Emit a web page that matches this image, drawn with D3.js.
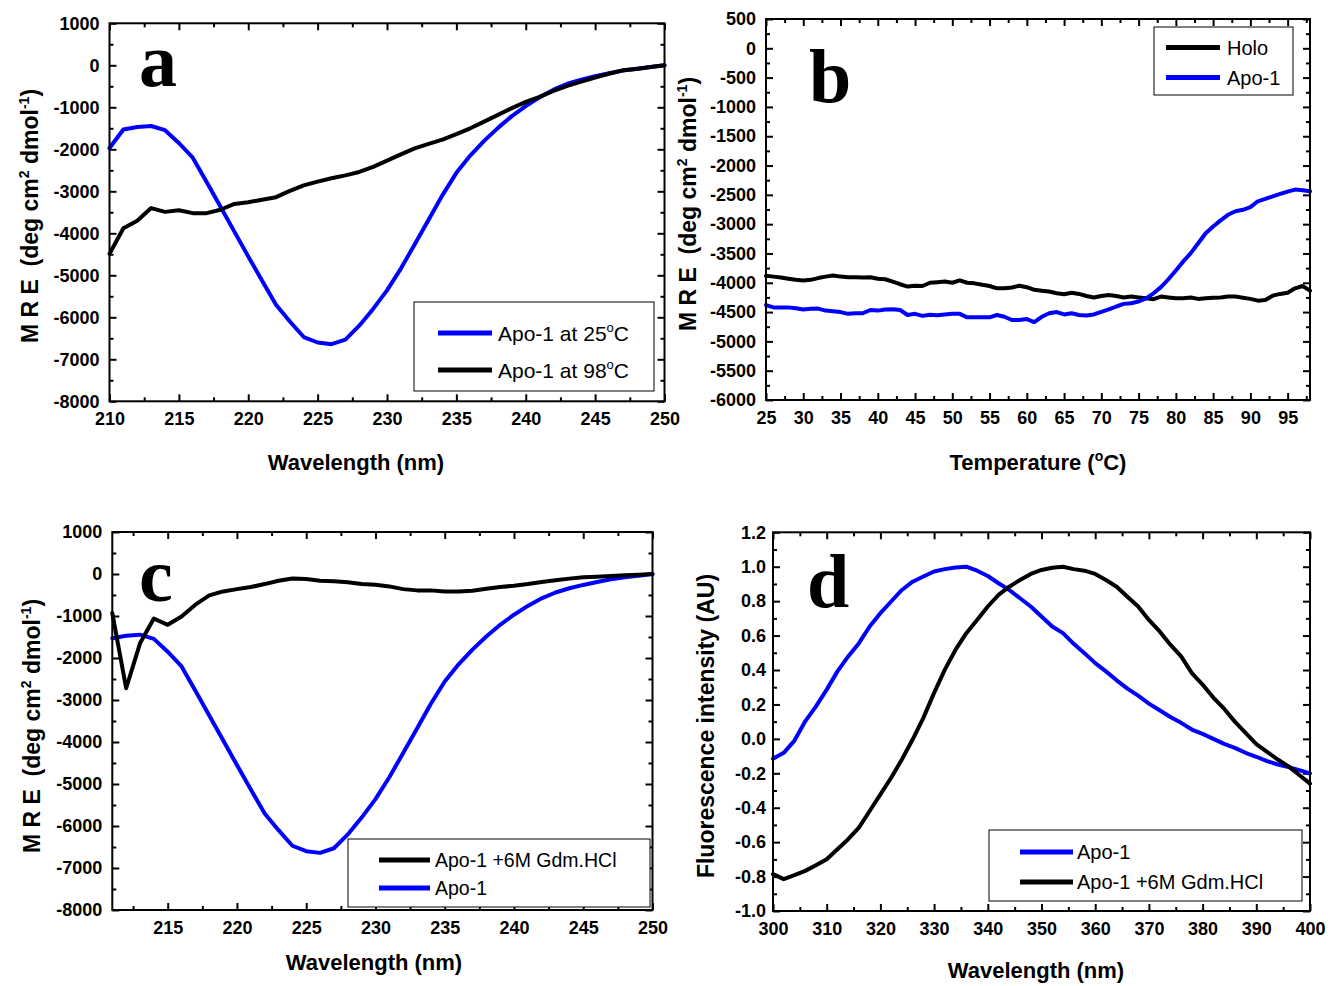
<!DOCTYPE html>
<html><head><meta charset="utf-8">
<script src="https://cdn.jsdelivr.net/npm/d3@7"></script>
<style>
body{margin:0;background:#fff;}
svg{display:block;}
text{fill:#000;}
</style></head><body>
<svg id="chart" width="1328" height="986"></svg>
<script>
// ---------------- DATA ----------------
// Panel a / c : CD spectra (wavelength, nm)
const wlA = [210,211,212,213,214,215,216,217,218,219,220,221,222,223,224,225,226,227,228,229,230,
             231,232,233,234,235,236,237,238,239,240,241,242,243,244,245,246,247,248,249,250];
const apo25 = [-1970,-1530,-1470,-1445,-1545,-1850,-2200,-2780,-3370,-3960,-4550,-5130,-5700,-6100,-6470,-6600,-6640,-6530,-6200,-5800,-5360,
               -4840,-4260,-3680,-3090,-2560,-2150,-1800,-1490,-1210,-970,-760,-580,-440,-340,-260,-190,-125,-80,-40,0];
const apo98 = [-4490,-3880,-3700,-3400,-3490,-3450,-3520,-3520,-3440,-3300,-3260,-3200,-3140,-2990,-2860,-2770,-2690,-2620,-2540,-2420,-2270,
               -2120,-1980,-1870,-1770,-1640,-1500,-1340,-1180,-1020,-870,-750,-610,-490,-390,-290,-200,-120,-90,-40,0];
const wlC = [211,212,213,214,215,216,217,218,219,220,221,222,223,224,225,226,227,228,229,230,
             231,232,233,234,235,236,237,238,239,240,241,242,243,244,245,246,247,248,249,250];
const apoGdmCD = [-930,-2720,-1650,-1060,-1210,-1010,-730,-510,-415,-360,-310,-240,-160,-105,-120,-160,-175,-195,-240,-255,
                  -295,-360,-390,-390,-415,-415,-400,-350,-310,-280,-240,-190,-150,-110,-80,-65,-50,-30,-15,0];
const apoNativeCD = [-1530,-1470,-1445,-1545,-1850,-2200,-2780,-3370,-3960,-4550,-5130,-5700,-6100,-6470,-6600,-6640,-6530,-6200,-5800,-5360,
                     -4840,-4260,-3680,-3090,-2560,-2150,-1800,-1490,-1210,-970,-760,-580,-440,-340,-260,-190,-125,-80,-40,0];

// Panel b : thermal melt (temperature, degC)
const tempB = [25,26,27,28,29,30,31,32,33,34,35,36,37,38,39,40,41,42,43,44,45,46,47,48,49,50,51,52,53,54,55,56,57,58,59,60,61,
               62,63,64,65,66,67,68,69,70,71,72,73,74,75,76,77,78,79,80,81,82,83,84,85,86,87,88,89,90,91,92,93,94,95,96,97,98];
const holoB = [-3880,-3895,-3910,-3930,-3950,-3960,-3950,-3920,-3895,-3875,-3895,-3905,-3905,-3910,-3905,-3930,-3940,-3980,-4025,-4065,
               -4050,-4055,-4000,-3990,-3980,-4000,-3960,-4000,-4010,-4035,-4055,-4095,-4095,-4080,-4050,-4075,-4120,-4135,-4150,-4180,
               -4195,-4170,-4190,-4225,-4250,-4225,-4210,-4225,-4250,-4235,-4250,-4265,-4280,-4235,-4250,-4265,-4265,-4250,-4275,-4265,
               -4255,-4250,-4235,-4235,-4255,-4275,-4305,-4295,-4220,-4190,-4170,-4095,-4055,-4135];
const apoB = [-4380,-4420,-4420,-4420,-4435,-4455,-4445,-4440,-4475,-4485,-4500,-4530,-4520,-4520,-4465,-4475,-4455,-4450,-4465,-4550,
              -4530,-4565,-4545,-4555,-4540,-4530,-4530,-4590,-4590,-4590,-4590,-4550,-4580,-4635,-4635,-4620,-4670,-4580,-4520,-4500,
              -4540,-4520,-4550,-4560,-4540,-4495,-4455,-4405,-4360,-4350,-4320,-4265,-4180,-4075,-3940,-3790,-3635,-3495,-3325,-3155,
              -3040,-2935,-2840,-2780,-2755,-2710,-2610,-2570,-2525,-2485,-2445,-2410,-2420,-2440];

// Panel d : fluorescence (wavelength, nm)
const wlD = [300,302,304,306,308,310,312,314,316,318,320,322,324,326,328,330,332,334,336,338,340,342,344,346,348,350,
             352,354,356,358,360,362,364,366,368,370,372,374,376,378,380,382,384,386,388,390,392,394,396,398,400];
const fluoApo = [-0.116,-0.081,-0.010,0.102,0.189,0.286,0.392,0.479,0.556,0.653,0.730,0.798,0.865,0.913,0.943,0.972,0.986,0.996,1.000,0.977,
                 0.946,0.904,0.865,0.817,0.769,0.711,0.653,0.614,0.552,0.498,0.440,0.392,0.340,0.292,0.251,0.205,0.166,0.127,0.093,0.054,
                 0.029,0.000,-0.029,-0.052,-0.081,-0.104,-0.129,-0.149,-0.164,-0.182,-0.201];
const fluoGdm = [-0.786,-0.815,-0.792,-0.767,-0.734,-0.699,-0.641,-0.583,-0.516,-0.419,-0.323,-0.226,-0.120,-0.004,0.122,0.267,0.402,0.518,0.614,0.691,
                 0.769,0.836,0.884,0.923,0.958,0.981,0.994,1.000,0.986,0.977,0.958,0.923,0.884,0.826,0.769,0.691,0.624,0.547,0.479,0.382,
                 0.315,0.240,0.175,0.100,0.035,-0.030,-0.075,-0.120,-0.160,-0.210,-0.260];

// Tick labels
const ticksYA = [-8000,-7000,-6000,-5000,-4000,-3000,-2000,-1000,0,1000];
const minorYA = [-7500,-6500,-5500,-4500,-3500,-2500,-1500,-500,500];
const ticksXA = [210,215,220,225,230,235,240,245,250];
const minorXA = [212.5,217.5,222.5,227.5,232.5,237.5,242.5,247.5];
const ticksYB = [-6000,-5500,-5000,-4500,-4000,-3500,-3000,-2500,-2000,-1500,-1000,-500,0,500];
const minorYB = [-5750,-5250,-4750,-4250,-3750,-3250,-2750,-2250,-1750,-1250,-750,-250,250];
const ticksXB = [25,30,35,40,45,50,55,60,65,70,75,80,85,90,95];
const minorXB = [27.5,32.5,37.5,42.5,47.5,52.5,57.5,62.5,67.5,72.5,77.5,82.5,87.5,92.5,97.5];
const ticksXC = [215,220,225,230,235,240,245,250];
const minorXC = [212.5,217.5,222.5,227.5,232.5,237.5,242.5,247.5];
const ticksYD = [-1.0,-0.8,-0.6,-0.4,-0.2,0.0,0.2,0.4,0.6,0.8,1.0,1.2];
const minorYD = [-0.9,-0.7,-0.5,-0.3,-0.1,0.1,0.3,0.5,0.7,0.9,1.1];
const ticksXD = [300,310,320,330,340,350,360,370,380,390,400];
const minorXD = [305,315,325,335,345,355,365,375,385,395];

const BLUE = "#0000ff", BLACK = "#000000";
const SANS = '"Liberation Sans", Arial, sans-serif';
const SERIF = '"Liberation Serif", "Times New Roman", serif';

// ---------------- DRAW ----------------
const svg = d3.select("#chart");
const intFmt = d => String(d);
const decFmt = d => d.toFixed(1);

function supText(sel, parts, fs, sfs, shift) {
  parts.forEach(p => {
    if (p.sup) sel.append("tspan").attr("dy", -shift).style("font-size", sfs + "px").text(p.t);
    else if (p.after) sel.append("tspan").attr("dy", shift).text(p.t);
    else sel.append("tspan").text(p.t);
  });
}

function panel(c) {
  const g = svg.append("g");
  const x = d3.scaleLinear().domain(c.xDomain).range([c.left, c.right]);
  const y = d3.scaleLinear().domain(c.yDomain).range([c.bottom, c.top]);
  const strip = s => s.select(".domain").remove();
  const style = s => s.selectAll("line").attr("stroke", "#000").attr("stroke-width", 2);
  const lab = s => s.selectAll("text").style("font-size", "18px").style("font-weight", "bold")
                     .style("font-family", SANS).attr("fill", "#000");

  // major + minor ticks on all four sides (pointing inward)
  g.append("g").attr("transform", `translate(0,${c.bottom})`)
    .call(d3.axisBottom(x).tickValues(c.xTicks).tickSize(-7).tickPadding(11).tickFormat(c.xFmt))
    .call(strip).call(style).call(lab);
  g.append("g").attr("transform", `translate(0,${c.bottom})`)
    .call(d3.axisBottom(x).tickValues(c.xMinor).tickSize(-4).tickFormat(""))
    .call(strip).call(style);
  g.append("g").attr("transform", `translate(0,${c.top})`)
    .call(d3.axisTop(x).tickValues(c.xTicks).tickSize(-7).tickFormat(""))
    .call(strip).call(style);
  g.append("g").attr("transform", `translate(0,${c.top})`)
    .call(d3.axisTop(x).tickValues(c.xMinor).tickSize(-4).tickFormat(""))
    .call(strip).call(style);
  g.append("g").attr("transform", `translate(${c.left},0)`)
    .call(d3.axisLeft(y).tickValues(c.yTicks).tickSize(-7).tickPadding(c.yPad).tickFormat(c.yFmt))
    .call(strip).call(style).call(lab);
  g.append("g").attr("transform", `translate(${c.left},0)`)
    .call(d3.axisLeft(y).tickValues(c.yMinor).tickSize(-4).tickFormat(""))
    .call(strip).call(style);
  g.append("g").attr("transform", `translate(${c.right},0)`)
    .call(d3.axisRight(y).tickValues(c.yTicks).tickSize(-7).tickFormat(""))
    .call(strip).call(style);
  g.append("g").attr("transform", `translate(${c.right},0)`)
    .call(d3.axisRight(y).tickValues(c.yMinor).tickSize(-4).tickFormat(""))
    .call(strip).call(style);

  // series
  const line = d3.line().x(d => x(d[0])).y(d => y(d[1]));
  c.series.forEach(s => {
    g.append("path").datum(d3.zip(s.x, s.y))
      .attr("d", line).attr("fill", "none").attr("stroke", s.color)
      .attr("stroke-width", 4).attr("stroke-linejoin", "round").attr("stroke-linecap", "round");
  });

  // frame
  g.append("rect").attr("x", c.left).attr("y", c.top)
    .attr("width", c.right - c.left).attr("height", c.bottom - c.top)
    .attr("fill", "none").attr("stroke", "#000").attr("stroke-width", 2);

  // panel letter (bold serif)
  g.append("text").attr("x", c.letter[0]).attr("y", c.letter[1])
    .style("font-family", SERIF).style("font-weight", "bold").style("font-size", "76px")
    .text(c.name);

  // legend
  const L = c.legend;
  g.append("rect").attr("x", L.box[0]).attr("y", L.box[1])
    .attr("width", L.box[2] - L.box[0]).attr("height", L.box[3] - L.box[1])
    .attr("fill", "#fff").attr("stroke", "#000").attr("stroke-width", 1);
  L.items.forEach((it, i) => {
    const yy = L.rows[i];
    g.append("line").attr("x1", L.line[0]).attr("x2", L.line[1]).attr("y1", yy).attr("y2", yy)
      .attr("stroke", it.color).attr("stroke-width", 5);
    const t = g.append("text").attr("x", L.textX).attr("y", yy).attr("dy", "0.36em")
      .style("font-family", SANS).style("font-size", L.fs + "px").style("white-space", "pre");
    supText(t, it.parts, L.fs, L.fs * 0.62, L.fs * 0.42);
  });

  // x title
  const xt = g.append("text").attr("x", c.xTitle[0]).attr("y", c.xTitle[1])
    .attr("text-anchor", "middle").style("font-family", SANS).style("font-weight", "bold")
    .style("font-size", "22px").style("white-space", "pre");
  supText(xt, c.xTitleParts, 22, 14, 9);

  // y title
  const yt = g.append("text")
    .attr("transform", `translate(${c.yTitle[0]},${c.yTitle[1]}) rotate(-90)`)
    .attr("text-anchor", "middle").style("font-family", SANS).style("font-weight", "bold")
    .style("font-size", "23px").style("white-space", "pre");
  supText(yt, c.yTitleParts, 23, 14, 9);
}

const mreTitle = [{t:"M R E  (deg cm"},{t:"2",sup:true},{t:" dmol",after:true},{t:"-1",sup:true},{t:")",after:true}];

panel({
  name: "a", left: 109.5, right: 664.5, top: 23.3, bottom: 401.3,
  xDomain: [210, 250], yDomain: [-8000, 1000],
  xTicks: ticksXA, xMinor: minorXA, yTicks: ticksYA, yMinor: minorYA,
  xFmt: intFmt, yFmt: intFmt, yPad: 10,
  series: [{x: wlA, y: apo25, color: BLUE}, {x: wlA, y: apo98, color: BLACK}],
  letter: [139, 86],
  legend: {box: [414, 302, 654, 391], line: [438, 492], rows: [333, 370], textX: 498, fs: 21,
    items: [{color: BLUE, parts: [{t:"Apo-1 at 25"},{t:"o",sup:true},{t:"C",after:true}]},
            {color: BLACK, parts: [{t:"Apo-1 at 98"},{t:"o",sup:true},{t:"C",after:true}]}]},
  xTitle: [356, 470], xTitleParts: [{t:"Wavelength (nm)"}],
  yTitle: [38, 216], yTitleParts: mreTitle
});

panel({
  name: "b", left: 766, right: 1310, top: 19, bottom: 400,
  xDomain: [25, 98], yDomain: [-6000, 500],
  xTicks: ticksXB, xMinor: minorXB, yTicks: ticksYB, yMinor: minorYB,
  xFmt: intFmt, yFmt: intFmt, yPad: 10,
  series: [{x: tempB, y: holoB, color: BLACK}, {x: tempB, y: apoB, color: BLUE}],
  letter: [809, 102],
  legend: {box: [1154, 27, 1293, 95], line: [1166, 1220], rows: [47.5, 77.5], textX: 1227, fs: 20,
    items: [{color: BLACK, parts: [{t:"Holo"}]}, {color: BLUE, parts: [{t:"Apo-1"}]}]},
  xTitle: [1038, 470], xTitleParts: [{t:"Temperature ("},{t:"o",sup:true},{t:"C)",after:true}],
  yTitle: [696, 204], yTitleParts: mreTitle
});

panel({
  name: "c", left: 112.3, right: 652.5, top: 532, bottom: 910,
  xDomain: [211, 250], yDomain: [-8000, 1000],
  xTicks: ticksXC, xMinor: minorXC, yTicks: ticksYA, yMinor: minorYA,
  xFmt: intFmt, yFmt: intFmt, yPad: 10,
  series: [{x: wlC, y: apoNativeCD, color: BLUE}, {x: wlC, y: apoGdmCD, color: BLACK}],
  letter: [139, 601],
  legend: {box: [348, 839, 650, 907], line: [379, 430], rows: [860, 888], textX: 435, fs: 19.5,
    items: [{color: BLACK, parts: [{t:"Apo-1 +6M Gdm.HCl"}]}, {color: BLUE, parts: [{t:"Apo-1"}]}]},
  xTitle: [374, 970], xTitleParts: [{t:"Wavelength (nm)"}],
  yTitle: [40, 726], yTitleParts: mreTitle
});

panel({
  name: "d", left: 773, right: 1310, top: 532.3, bottom: 911,
  xDomain: [300, 400], yDomain: [-1.0, 1.2],
  xTicks: ticksXD, xMinor: minorXD, yTicks: ticksYD, yMinor: minorYD,
  xFmt: intFmt, yFmt: decFmt, yPad: 7,
  series: [{x: wlD, y: fluoApo, color: BLUE}, {x: wlD, y: fluoGdm, color: BLACK}],
  letter: [807, 607],
  legend: {box: [989, 830, 1302, 901], line: [1020, 1073], rows: [852, 882], textX: 1077, fs: 20,
    items: [{color: BLUE, parts: [{t:"Apo-1"}]}, {color: BLACK, parts: [{t:"Apo-1 +6M Gdm.HCl"}]}]},
  xTitle: [1036, 978], xTitleParts: [{t:"Wavelength (nm)"}],
  yTitle: [714, 726], yTitleParts: [{t:"Fluorescence intensity (AU)"}]
});
</script>
</body></html>
